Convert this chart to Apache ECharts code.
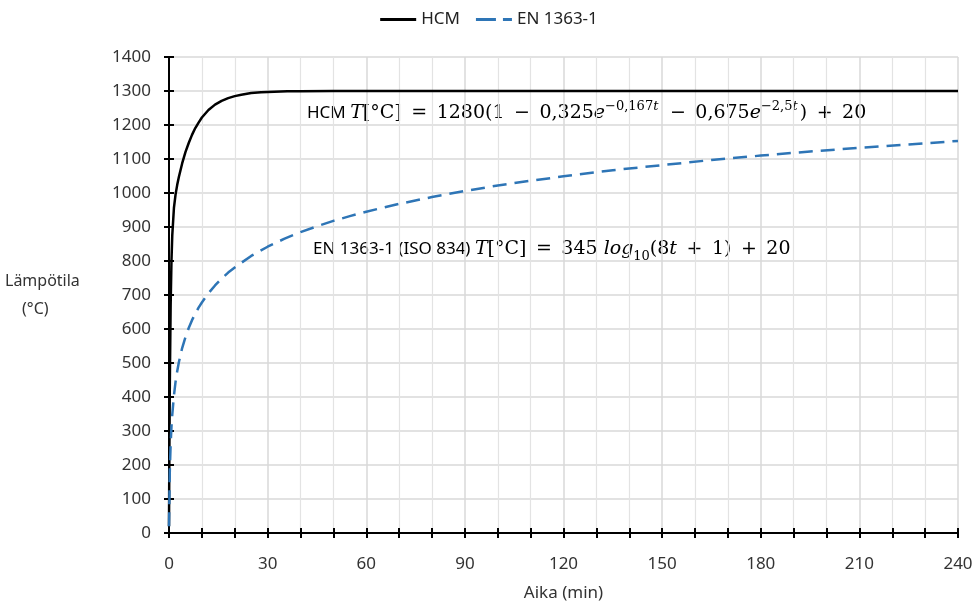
<!DOCTYPE html>
<html><head><meta charset="utf-8">
<script src="https://cdn.jsdelivr.net/npm/echarts@6/dist/echarts.min.js"></script>
<style>html,body{margin:0;padding:0;background:#fff}#c{width:978px;height:604px}</style>
</head><body><div id="c"></div>
<script>
// Time (min) and temperature (°C)
var hcmTime = [0, 0.1, 0.25, 0.5, 0.75, 1, 1.5, 2, 2.5, 3, 4, 5, 6, 7, 8, 9, 10, 12, 14, 16, 18, 20, 22, 25, 28, 32, 36, 40, 50, 60, 90, 120, 150, 180, 210, 240];
var hcmTemp = [20, 218, 439, 670, 800, 877, 956, 996, 1024, 1047, 1087, 1120, 1147, 1171, 1191, 1207, 1222, 1244, 1260, 1271, 1279, 1285, 1289, 1294, 1296, 1298, 1299, 1299, 1300, 1300, 1300, 1300, 1300, 1300, 1300, 1300];
var enTime = [0, 0.25, 0.5, 0.75, 1, 1.5, 2, 2.5, 3, 4, 5, 6, 7, 8, 9, 10, 12, 14, 16, 18, 20, 25, 30, 35, 40, 45, 50, 55, 60, 70, 80, 90, 100, 110, 120, 135, 150, 165, 180, 195, 210, 225, 240];
var enTemp = [20, 185, 261, 312, 349, 404, 445, 476, 502, 544, 576, 603, 626, 645, 663, 678, 705, 728, 748, 766, 781, 815, 842, 865, 885, 902, 918, 932, 945, 968, 988, 1006, 1022, 1036, 1049, 1067, 1082, 1097, 1110, 1122, 1133, 1143, 1153];
var seriesNames = ['HCM', 'EN 1363-1'];
var xTicks = [0, 30, 60, 90, 120, 150, 180, 210, 240];
var yMin = 0, yMax = 1400, yStep = 100;

function pairs(a, b) { return a.map(function (v, i) { return [v, b[i]]; }); }

var chart = echarts.init(document.getElementById('c'));
var font = 'Noto Sans';
var serif = 'DejaVu Serif';
function axisCommon(inside, showLabel) {
  return {
    axisLine: { show: true, lineStyle: { color: '#000', width: 2 } },
    axisTick: { show: true, inside: inside, length: 5, lineStyle: { color: '#000', width: 2 } },
    axisLabel: { show: showLabel, color: '#333', fontFamily: font, fontSize: 17,
      formatter: function (v) { return String(v); } }
  };
}
var x0 = Object.assign({
  type: 'value', min: xTicks[0], max: xTicks[xTicks.length - 1], interval: 30,
  name: 'Aika (min)', nameLocation: 'middle', nameGap: 52,
  nameTextStyle: { color: '#333', fontFamily: font, fontSize: 17 },
  splitLine: { show: true, lineStyle: { color: '#d9d9d9', width: 1.5 } },
  minorTick: { show: true, splitNumber: 3, length: 5, lineStyle: { color: '#000', width: 2 } },
  minorSplitLine: { show: true, lineStyle: { color: '#e3e3e3', width: 1.2 } }
}, axisCommon(false, true));
x0.axisLabel.margin = 23;
var x1 = Object.assign({
  type: 'value', min: xTicks[0], max: xTicks[xTicks.length - 1], interval: 30, position: 'bottom',
  splitLine: { show: false },
  minorTick: { show: true, splitNumber: 3, length: 5, lineStyle: { color: '#000', width: 2 } }
}, axisCommon(true, false));
var y0 = Object.assign({
  type: 'value', min: yMin, max: yMax, interval: yStep,
  splitLine: { show: true, lineStyle: { color: '#d9d9d9', width: 1.5 } }
}, axisCommon(false, true));
y0.axisLabel.margin = 18;
var y1 = Object.assign({
  type: 'value', min: yMin, max: yMax, interval: yStep, position: 'left',
  splitLine: { show: false }
}, axisCommon(true, false));

var ink = '#262626';
var fs = 19;
var mainSt = { fontFamily: serif, fontSize: fs, color: ink, lineHeight: 26 };
var it = { fontFamily: serif, fontSize: fs, fontStyle: 'italic', color: ink, lineHeight: 26 };
var sup = { fontFamily: serif, fontSize: 13, color: ink, verticalAlign: 'top', lineHeight: 20 };
var supi = { fontFamily: serif, fontSize: 13, fontStyle: 'italic', color: ink, verticalAlign: 'top', lineHeight: 20, padding: [0, 2, 0, 0] };
var sub = { fontFamily: serif, fontSize: 13, color: ink, verticalAlign: 'bottom', lineHeight: 28 };
var plain = { fontFamily: font, fontSize: 17, color: ink, lineHeight: 26 };
var sp = '\u2002';

var hcmText = '{p|HCM }{i|T}{m|[°C]' + sp + '=' + sp + '1280(1' + sp + '−' + sp + '0,325}{i|e}{s|−0,167}{st|t}{m|' + sp + '−' + sp + '0,675}{i|e}{s|−2,5}{st|t}{m|)' + sp + '+' + sp + '20}';
var enText = '{p|EN 1363-1 (ISO 834) }{i|T}{m|[°C]' + sp + '=' + sp + '345 }{i|log}{b|10}{m|(8}{i|t}{m|' + sp + '+' + sp + '1)' + sp + '+' + sp + '20}';

chart.setOption({
  animation: false,
  backgroundColor: '#fff',
  grid: { left: 169, right: 20, top: 57, bottom: 71, containLabel: false, outerBoundsMode: 'none' },
  legend: {
    top: 6, left: 'center', itemWidth: 36, itemHeight: 3, itemGap: 16,
    textStyle: { fontFamily: font, fontSize: 17, color: '#222' },
    data: [
      { name: seriesNames[0], icon: 'path://M0,0h36v3h-36z' },
      { name: seriesNames[1], icon: 'path://M0,0h20v3h-20z M27,0h9v3h-9z' }
    ]
  },
  xAxis: [x0, x1],
  yAxis: [y0, y1],
  graphic: [
    { type: 'text', left: 5, top: 273, style: { text: 'Lämpötila', font: '16px "Noto Sans"', fill: '#333' } },
    { type: 'text', left: 22, top: 301, style: { text: '(°C)', font: '16px "Noto Sans"', fill: '#333' } },
    { type: 'text', left: 307, top: 100, style: { text: hcmText, rich: { p: plain, i: it, m: mainSt, s: sup, st: supi } } },
    { type: 'text', left: 313, top: 240, style: { text: enText, rich: { p: plain, i: it, m: mainSt, b: sub } } }
  ],
  series: [
    { name: seriesNames[0], type: 'line', data: pairs(hcmTime, hcmTemp), symbol: 'none', smooth: false,
      lineStyle: { color: '#000', width: 2.5 }, itemStyle: { color: '#000' } },
    { name: seriesNames[1], type: 'line', data: pairs(enTime, enTemp), symbol: 'none', smooth: false,
      lineStyle: { color: '#2E75B6', width: 2.5, type: [14, 8] }, itemStyle: { color: '#2E75B6' } }
  ]
});
</script></body></html>
